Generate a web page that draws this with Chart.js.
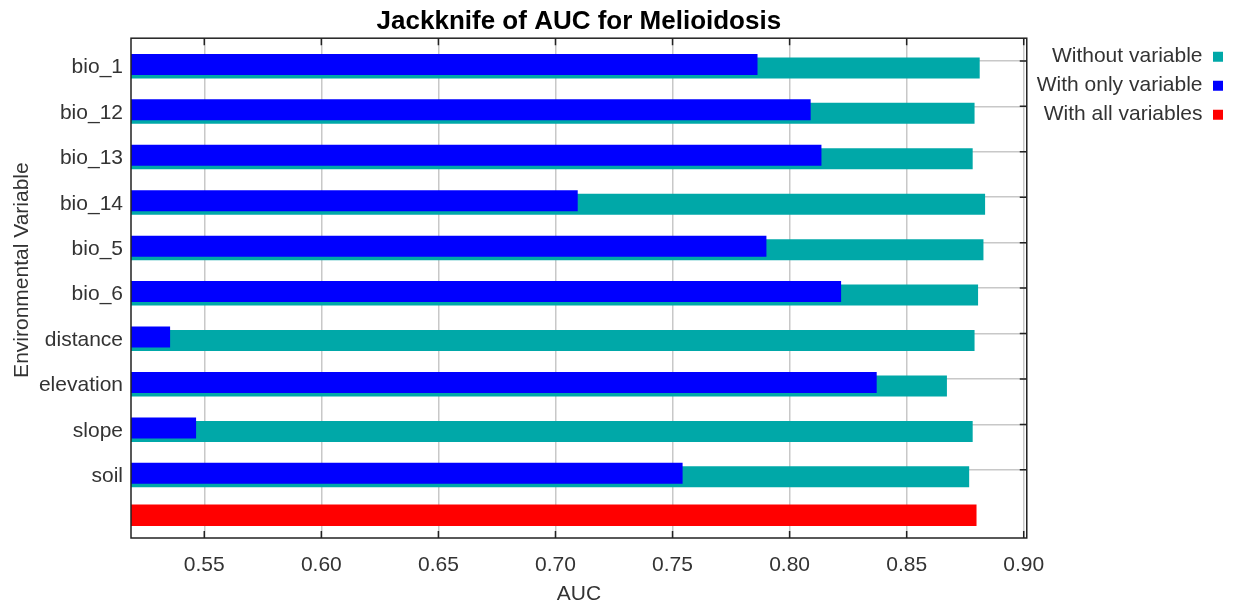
<!DOCTYPE html>
<html><head><meta charset="utf-8">
<script src="https://cdn.jsdelivr.net/npm/chart.js@4/dist/chart.umd.min.js"></script>
<style>html,body{margin:0;padding:0;background:#fff}#wrap{width:1243px;height:607px;position:relative}</style>
</head><body><div id="wrap"><canvas id="c"></canvas></div>
<script>
const chartTitle = 'Jackknife of AUC for Melioidosis';
const xTitle = 'AUC';
const yTitle = 'Environmental Variable';
const variables = ['bio_1','bio_12','bio_13','bio_14','bio_5','bio_6','distance','elevation','slope','soil'];
const withoutVariable = [0.8812, 0.8790, 0.8782, 0.8835, 0.8828, 0.8805, 0.8790, 0.8672, 0.8782, 0.8767];
const withOnlyVariable = [0.7863, 0.8090, 0.8136, 0.7095, 0.7901, 0.8220, 0.5354, 0.8372, 0.5465, 0.7543];
const withAllVariables = 0.8797;
const xTicks = [0.55, 0.60, 0.65, 0.70, 0.75, 0.80, 0.85, 0.90];
const xMin = 0.5187, xMax = 0.9013;
const seriesNames = ['Without variable', 'With only variable', 'With all variables'];

const categories = variables.concat(['']);
const nVar = variables.length;
const padRow = arr => arr.concat([null]);
const allRow = categories.map((c, i) => i === nVar ? withAllVariables : null);

const FONT = "'Liberation Sans', Arial, sans-serif";
Chart.defaults.font.family = FONT;
Chart.defaults.color = '#333';

const spacer = () => ({label: '', data: [], backgroundColor: 'rgba(0,0,0,0)'});

const framePlugin = {
  id: 'frame',
  afterDatasetsDraw(chart) {
    const {ctx, chartArea: a, scales: {x, y}} = chart;
    ctx.save();
    ctx.strokeStyle = '#222';
    ctx.lineWidth = 1.5;
    ctx.strokeRect(a.left, a.top, a.right - a.left, a.bottom - a.top);
    ctx.beginPath();
    xTicks.forEach(v => {
      const px = x.getPixelForValue(v);
      ctx.moveTo(px, a.top); ctx.lineTo(px, a.top + 7);
      ctx.moveTo(px, a.bottom); ctx.lineTo(px, a.bottom - 7);
    });
    variables.forEach((v, i) => {
      const py = y.getPixelForValue(i);
      ctx.moveTo(a.right, py); ctx.lineTo(a.right - 7, py);
    });
    ctx.stroke();
    ctx.fillStyle = '#333';
    ctx.font = '21px ' + FONT;
    ctx.textAlign = 'center';
    ctx.textBaseline = 'middle';
    ctx.translate(22.5, (a.top + a.bottom) / 2 - 18);
    ctx.rotate(-Math.PI / 2);
    ctx.fillText(yTitle, 0, 0);
    ctx.restore();
  }
};

const barOpts = {categoryPercentage: 0.385, barPercentage: 6, borderWidth: 0};

new Chart(document.getElementById('c'), {
  type: 'bar',
  data: {
    labels: categories,
    datasets: [
      spacer(), spacer(), spacer(),
      Object.assign({label: seriesNames[1], data: padRow(withOnlyVariable), backgroundColor: '#0000ff'}, barOpts),
      Object.assign({label: seriesNames[0], data: padRow(withoutVariable), backgroundColor: '#00a8a8'}, barOpts),
      {label: seriesNames[2], data: allRow, backgroundColor: '#ff0000', grouped: false, barThickness: 21, borderWidth: 0}
    ]
  },
  options: {
    indexAxis: 'y',
    responsive: true,
    maintainAspectRatio: false,
    animation: false,
    events: [],
    layout: {padding: {left: 0, right: 12, top: 0, bottom: 0}},
    plugins: {
      tooltip: {enabled: false},
      title: {
        display: true, text: chartTitle, color: '#000', fullSize: false,
        font: {size: 26, weight: 'bold'}, padding: {top: 6, bottom: 1}
      },
      legend: {
        position: 'right', align: 'start', rtl: true, fullSize: false,
        labels: {
          font: {size: 21}, color: '#333', boxWidth: 10, boxHeight: 10, padding: 8,
          filter: item => item.text !== '',
          sort: (a, b) => seriesNames.indexOf(a.text) - seriesNames.indexOf(b.text)
        }
      }
    },
    scales: {
      x: {
        type: 'linear', min: xMin, max: xMax,
        afterBuildTicks: s => { s.ticks = xTicks.map(v => ({value: v})); },
        ticks: {callback: v => Number(v).toFixed(2), font: {size: 21}, padding: 15, color: '#333'},
        grid: {color: '#c8c8c8', lineWidth: 1.5, drawTicks: false},
        border: {display: false},
        title: {display: true, text: xTitle, font: {size: 21}, color: '#333', padding: {top: 4, bottom: 0}},
        afterFit: s => { s.height = 69; }
      },
      y: {
        type: 'category', offset: true,
        grid: {offset: false, drawTicks: false, lineWidth: 1.5,
               color: c => c.index < nVar ? '#c8c8c8' : 'rgba(0,0,0,0)'},
        border: {display: false},
        ticks: {font: {size: 21}, padding: 8, labelOffset: 6.5, color: '#333', autoSkip: false},
        afterFit: s => { s.width = 131; }
      }
    }
  },
  plugins: [framePlugin]
});
</script>
</body></html>
